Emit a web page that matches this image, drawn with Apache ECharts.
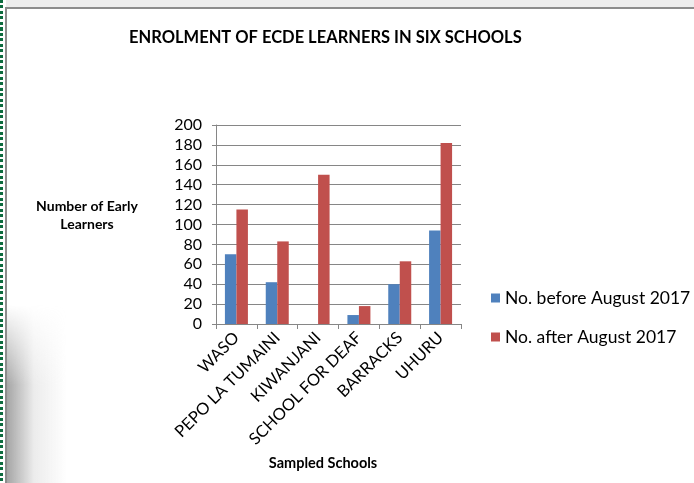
<!DOCTYPE html>
<html>
<head>
<meta charset="utf-8">
<script src="https://cdn.jsdelivr.net/npm/echarts@6/dist/echarts.min.js"></script>
<style>
  html, body { margin: 0; padding: 0; background: #fff; }
  #wrap { position: relative; width: 694px; height: 483px; overflow: hidden; }
  #chart { position: absolute; left: 0; top: 0; width: 694px; height: 483px; }
  .topbar { position: absolute; left: 6px; top: 0; width: 688px; height: 7px; background: #ededed; border-bottom: 2px solid #8c8c8c; }
  .leftdots { position: absolute; left: 0; top: 0; width: 3px; height: 483px;
    background: repeating-linear-gradient(to bottom, #0d6b3e 0, #0d6b3e 3px, #fff 3px, #fff 5.5px); }
  .leftline { position: absolute; left: 5px; top: 7px; width: 2px; height: 476px; background: #8c8c8c; }
  .shadow { position: absolute; left: 7px; top: 305px; width: 60px; height: 178px;
    background: linear-gradient(to right, rgba(150,150,150,0.85), rgba(200,200,200,0.35) 45%, rgba(255,255,255,0) 100%);
    -webkit-mask-image: linear-gradient(to bottom, transparent 0, #000 45%);
    mask-image: linear-gradient(to bottom, transparent 0, #000 45%); }
</style>
</head>
<body>
<div id="wrap">
  <div class="shadow"></div>
  <div id="chart"></div>
  <div class="topbar"></div>
  <div class="leftdots"></div>
  <div class="leftline"></div>
</div>
<script>
var schools = ['WASO', 'PEPO LA TUMAINI', 'KIWANJANI', 'SCHOOL FOR DEAF', 'BARRACKS', 'UHURU'];
var beforeAug = [70, 42, 0, 9, 40, 94];
var afterAug = [115, 83, 150, 18, 63, 182];
var seriesNames = ['No. before August 2017', 'No. after August 2017'];

function initEcharts() {
    var myChart = echarts.init(document.getElementById('chart'));
    var font = 'Lato, "Open Sans", sans-serif';

    var option = {
        animation: false,
        backgroundColor: 'transparent',
        title: {
            text: 'ENROLMENT OF ECDE LEARNERS IN SIX SCHOOLS',
            left: 124,
            top: 24,
            textStyle: { fontFamily: font, fontSize: 16.5, fontWeight: 'bold', color: '#000' }
        },
        grid: {
            left: 216,
            right: 233,
            top: 125,
            bottom: 159
        },
        legend: {
            orient: 'vertical',
            left: 491,
            top: 289,
            padding: 0,
            itemWidth: 9,
            itemHeight: 9,
            itemGap: 21,
            icon: 'rect',
            data: seriesNames,
            textStyle: { fontFamily: font, fontSize: 17.5, color: '#000' }
        },
        graphic: [
            {
                type: 'text',
                x: 87,
                y: 197,
                style: {
                    text: 'Number of Early\nLearners',
                    font: 'bold 14px ' + font,
                    fill: '#000',
                    align: 'center',
                    lineHeight: 18
                }
            },
            {
                type: 'text',
                x: 323,
                y: 456,
                style: {
                    text: 'Sampled Schools',
                    font: 'bold 14.5px ' + font,
                    fill: '#000',
                    align: 'center'
                }
            }
        ],
        xAxis: {
            type: 'category',
            data: schools,
            axisLine: { lineStyle: { color: '#868686', width: 1 } },
            axisTick: { show: true, length: 5, lineStyle: { color: '#868686' } },
            axisLabel: {
                rotate: 45,
                interval: 0,
                margin: 11,
                fontFamily: font,
                fontSize: 16.5,
                color: '#000'
            }
        },
        yAxis: {
            type: 'value',
            min: 0,
            max: 200,
            interval: 20,
            axisLine: { show: true, lineStyle: { color: '#868686', width: 1 } },
            axisTick: { show: true, length: 4, lineStyle: { color: '#868686' } },
            splitLine: { lineStyle: { color: '#868686', width: 1 } },
            axisLabel: {
                margin: 14,
                fontFamily: font,
                fontSize: 16,
                color: '#000'
            }
        },
        series: [
            {
                name: seriesNames[0],
                type: 'bar',
                data: beforeAug,
                barWidth: 11.5,
                barGap: '0%',
                itemStyle: { color: '#4f81bd' }
            },
            {
                name: seriesNames[1],
                type: 'bar',
                data: afterAug,
                barWidth: 11.5,
                barGap: '0%',
                itemStyle: { color: '#c0504d' }
            }
        ]
    };

    myChart.setOption(option);
}

initEcharts();
</script>
</body>
</html>
